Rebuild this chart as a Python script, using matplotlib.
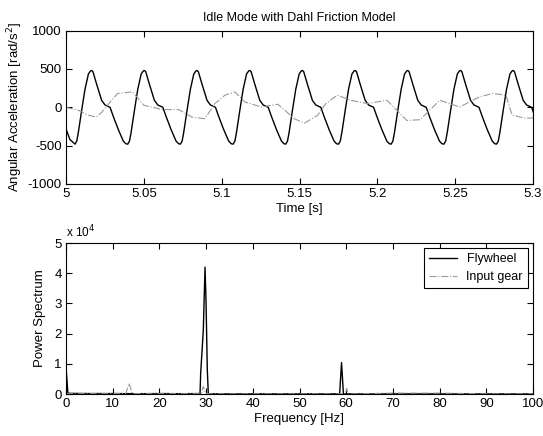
import matplotlib.pyplot as plt

plt.rcParams['font.family'] = ['Liberation Sans', 'DejaVu Sans']
plt.rcParams['font.size'] = 9.5
plt.rcParams['axes.unicode_minus'] = False

# flywheel acceleration: one cycle shape, placed at every trough
cycle_dt = [0.0, 0.0011, 0.0021, 0.0043, 0.0064, 0.0086, 0.0100, 0.0107, 0.0115,
            0.0139, 0.0171, 0.0193, 0.0225, 0.0246, 0.0278, 0.0310, 0.0326]
cycle_acc = [-480, -440, -330, -35, 235, 435, 475, 480, 465,
             300, 90, 30, 0, -120, -290, -440, -475]
trough_t = [5.0058, 5.0397, 5.0735, 5.1074, 5.1412, 5.1751, 5.2089, 5.2428, 5.2766]

# input gear acceleration (dash-dot trace)
gear_t = [5.000, 5.008, 5.014, 5.0193, 5.0231, 5.028, 5.0331, 5.0427, 5.0501,
          5.0618, 5.0724, 5.0809, 5.0892, 5.0957, 5.1021, 5.1085, 5.1148,
          5.1255, 5.1361, 5.1467, 5.1531, 5.1616, 5.1669, 5.1743, 5.1828,
          5.1934, 5.2062, 5.2189, 5.2274, 5.2401, 5.2529, 5.2656, 5.2741,
          5.2826, 5.2866, 5.2943, 5.300]
gear_acc = [0, -40, -100, -128, -62, 60, 180, 201, 26,
            -30, -30, -128, -149, 49, 158, 201, 70,
            4, 40, -149, -207, -105, 49, 158, 92,
            49, 92, -171, -162, 92, 4, 136, 180,
            158, -100, -140, -140]

# power spectra
fly_f = [0, 0.4, 1, 5, 10, 15, 20, 25, 28.7, 28.84, 29.4, 29.77, 29.98, 30.1,
         30.26, 30.47, 35, 40, 45, 50, 55, 58.6, 58.8, 59.0, 59.2, 59.4, 62,
         70, 75, 80, 85, 90, 95, 100]
fly_p = [9000, 300, 200, 150, 150, 100, 150, 100, 150, 6900, 21000, 42000, 31000, 21000,
         8000, 100, 50, 50, 50, 50, 50, 100, 5300, 10400, 5300, 100, 50,
         50, 50, 50, 50, 50, 50, 50]
gear_f = [0, 1, 5, 10, 12.8, 13.5, 14.2, 16, 20, 25, 28.9, 29.4, 29.9, 30.5,
          35, 40, 50, 58, 59.8, 60.1, 60.4, 62, 70, 80, 90, 100]
gear_p = [200, 100, 100, 100, 150, 3500, 150, 100, 100, 100, 100, 2500, 200, 100,
          50, 50, 50, 50, 50, 1800, 50, 50, 300, 300, 50, 50]

time_ticks = [5, 5.05, 5.1, 5.15, 5.2, 5.25, 5.3]
time_labels = ['5', '5.05', '5.1', '5.15', '5.2', '5.25', '5.3']
acc_ticks = [-1000, -500, 0, 500, 1000]
freq_ticks = [0, 10, 20, 30, 40, 50, 60, 70, 80, 90, 100]
pow_ticks = [0, 10000, 20000, 30000, 40000, 50000]
pow_labels = ['0', '1', '2', '3', '4', '5']

fly_t = [5.0, 5.0025]
fly_acc = [-280, -420]
for t0 in trough_t:
    for dt, a in zip(cycle_dt, cycle_acc):
        fly_t.append(t0 + dt)
        fly_acc.append(a)

fig = plt.figure(figsize=(5.43, 4.36), dpi=100)
ax1 = fig.add_axes([66/543, 1-184/436, 467/543, 153.4/436])
ax2 = fig.add_axes([66/543, 1-394/436, 467/543, 151/436])

ax1.plot(fly_t, fly_acc, color='k', lw=1.0)
ax1.plot(gear_t, gear_acc, color='0.6', ls='-.', lw=0.8)
ax1.set_xlim(5, 5.3)
ax1.set_ylim(-1000, 1000)
ax1.set_xticks(time_ticks)
ax1.set_xticklabels(time_labels)
ax1.set_yticks(acc_ticks)
ax1.set_title('Idle Mode with Dahl Friction Model', fontsize=9, pad=7)
ax1.set_xlabel('Time [s]', labelpad=2)
ax1.set_ylabel('Angular Acceleration [rad/s$^2$]', labelpad=2)

ax2.plot(fly_f, fly_p, color='k', lw=1.0, label='Flywheel')
ax2.plot(gear_f, gear_p, color='0.6', ls='-.', lw=0.8, label='Input gear')
ax2.set_xlim(0, 100)
ax2.set_ylim(0, 50000)
ax2.set_xticks(freq_ticks)
ax2.set_yticks(pow_ticks)
ax2.set_yticklabels(pow_labels)
ax2.set_xlabel('Frequency [Hz]', labelpad=2)
ax2.set_ylabel('Power Spectrum', labelpad=6)
ax2.text(0, 1.015, 'x 10$^4$', transform=ax2.transAxes, fontsize=8.5, va='bottom')
leg = ax2.legend(loc='upper right', fancybox=False, edgecolor='k', framealpha=1,
                 handlelength=2.2, borderaxespad=0.4, fontsize=9)
leg.get_frame().set_linewidth(0.8)

for ax in (ax1, ax2):
    ax.tick_params(direction='in', top=True, right=True, length=4, width=0.8, pad=3)
    for s in ax.spines.values():
        s.set_linewidth(0.8)

fig.savefig('out.png', dpi=100)
